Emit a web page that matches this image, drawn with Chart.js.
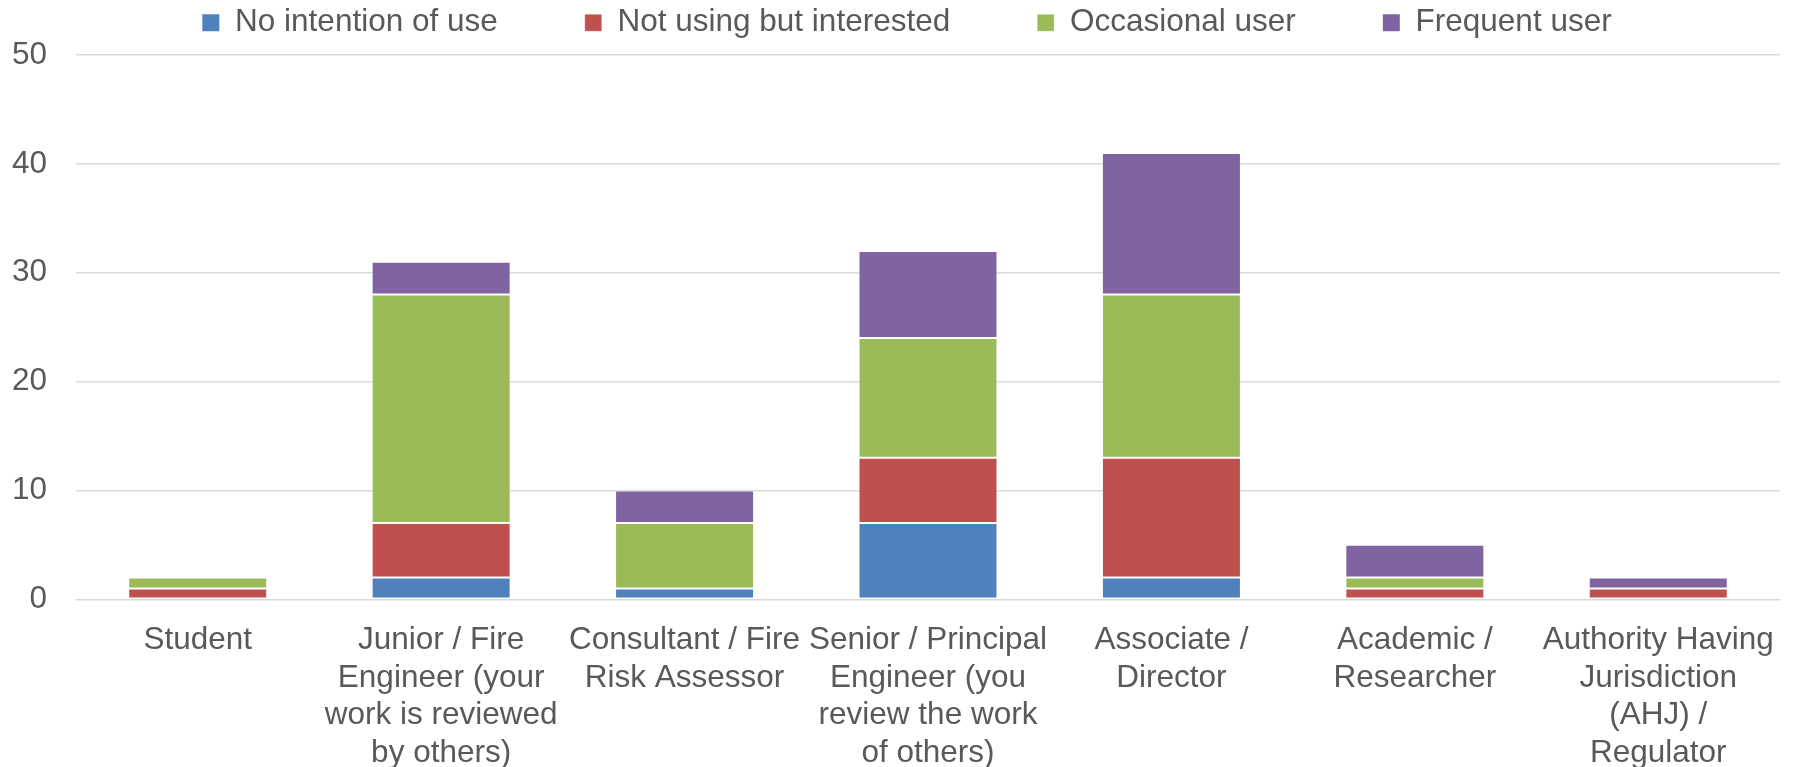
<!DOCTYPE html>
<html>
<head>
<meta charset="utf-8">
<script src="https://cdn.jsdelivr.net/npm/chart.js@4/dist/chart.umd.min.js"></script>
<style>
  html, body { margin: 0; padding: 0; background: #ffffff; }
  canvas { display: block; }
</style>
</head>
<body>
<canvas id="chart" width="1797" height="767"></canvas>
<script>
// Respondent roles (x categories), wrapped over several lines
const roles = [
  ["Student"],
  ["Junior / Fire", "Engineer (your", "work is reviewed", "by others)"],
  ["Consultant / Fire", "Risk Assessor"],
  ["Senior / Principal", "Engineer (you", "review the work", "of others)"],
  ["Associate /", "Director"],
  ["Academic /", "Researcher"],
  ["Authority Having", "Jurisdiction", "(AHJ) /", "Regulator"]
];

// Number of respondents in each usage group, per role
const noIntention        = [0, 2, 1, 7, 2, 0, 0];
const notUsingInterested = [1, 5, 0, 6, 11, 1, 1];
const occasionalUser     = [1, 21, 6, 11, 15, 1, 0];
const frequentUser       = [0, 3, 3, 8, 13, 3, 1];

const seriesNames = ["No intention of use", "Not using but interested", "Occasional user", "Frequent user"];
const yTicks = [0, 10, 20, 30, 40, 50];

const FONT = "'Liberation Sans', Arial, sans-serif";
const TEXT = "#595959";
const LEGEND_PAD = 87;

const segBorder = ctx => (ctx.raw ? 1 : 0);

// Sizes the legend band above the plot and places its single row
const legendBand = {
  id: 'legendBand',
  beforeUpdate(chart) {
    const lg = chart.legend;
    if (lg && !lg._bandFit) {
      const fit = lg.fit;
      lg.fit = function () {
        fit.call(this);
        this.height = 55;
      };
      lg._bandFit = true;
    }
  },
  afterLayout(chart) {
    const lg = chart.legend;
    if (!lg) return;
    lg.top = 7 - LEGEND_PAD;
    lg.left += 17;
    lg.right += 17;
  }
};

new Chart(document.getElementById('chart'), {
  type: 'bar',
  data: {
    labels: roles,
    datasets: [
      { label: seriesNames[0], data: noIntention,        backgroundColor: '#4F81BD' },
      { label: seriesNames[1], data: notUsingInterested, backgroundColor: '#C0504D' },
      { label: seriesNames[2], data: occasionalUser,     backgroundColor: '#9BBB59' },
      { label: seriesNames[3], data: frequentUser,       backgroundColor: '#8064A2' }
    ].map(d => Object.assign(d, {
      borderColor: 'rgba(255,255,255,0.35)',
      borderWidth: segBorder,
      borderSkipped: false,
      categoryPercentage: 1.0,
      barPercentage: 0.571
    }))
  },
  options: {
    responsive: false,
    animation: false,
    devicePixelRatio: 1,
    layout: { padding: { top: 0, right: 17, bottom: 0, left: 0 } },
    plugins: {
      legend: {
        position: 'top',
        align: 'center',
        labels: {
          boxWidth: 17,
          boxHeight: 17,
          padding: LEGEND_PAD,
          color: TEXT,
          font: { family: FONT, size: 31.5 }
        }
      },
      tooltip: { enabled: false }
    },
    scales: {
      x: {
        stacked: true,
        grid: { display: false },
        border: { display: false },
        ticks: {
          color: TEXT,
          padding: 14,
          maxRotation: 0,
          autoSkip: false,
          font: { family: FONT, size: 31.5, lineHeight: 1.2 }
        },
        afterFit(scale) { scale.height = 167.7; }
      },
      y: {
        stacked: true,
        min: 0,
        max: 50,
        afterBuildTicks(scale) { scale.ticks = yTicks.map(v => ({ value: v })); },
        grid: { color: '#D9D9D9', lineWidth: 1.5, drawTicks: false },
        border: { display: false },
        ticks: {
          color: TEXT,
          padding: 29,
          font: { family: FONT, size: 31.5 }
        },
        afterFit(scale) { scale.width = 76; }
      }
    }
  },
  plugins: [legendBand]
});
</script>
</body>
</html>
